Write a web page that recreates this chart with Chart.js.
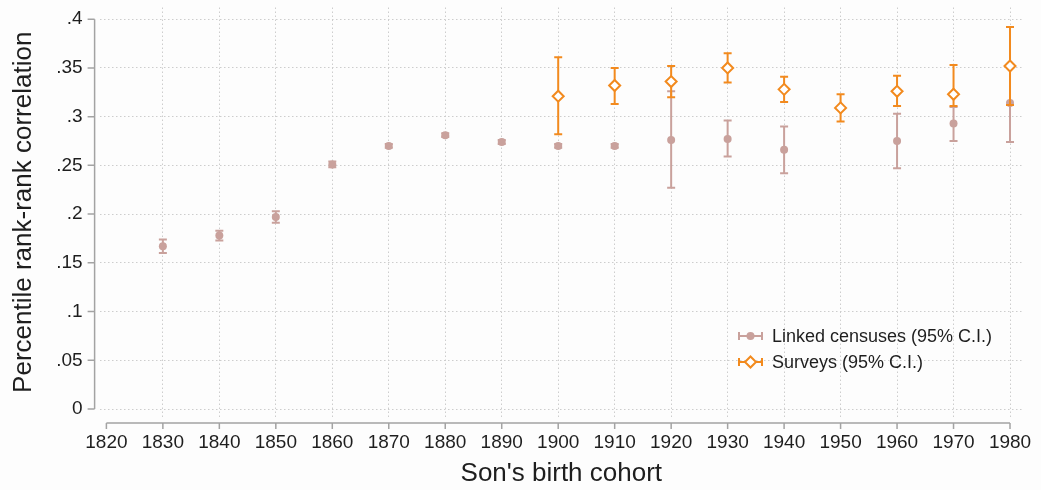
<!DOCTYPE html>
<html>
<head>
<meta charset="utf-8">
<script src="https://cdn.jsdelivr.net/npm/chart.js@4/dist/chart.umd.min.js"></script>
<style>
  html, body { margin: 0; padding: 0; background: #fff; }
  #wrap { width: 1041px; height: 490px; position: relative; background: #fdfdfd; }
</style>
</head>
<body>
<div id="wrap"><canvas id="cohortChart"></canvas></div>
<script>
// son's birth cohorts
const cohorts = [1830, 1840, 1850, 1860, 1870, 1880, 1890, 1900, 1910, 1920, 1930, 1940, 1950, 1960, 1970, 1980];

// linked censuses: estimate and 95% CI (no value for 1950)
const linkedEst = [0.167, 0.178, 0.197, 0.251, 0.270, 0.281, 0.274, 0.270, 0.270, 0.276, 0.277, 0.266, null, 0.275, 0.293, 0.314];
const linkedLo  = [0.160, 0.173, 0.191, 0.248, 0.268, 0.279, 0.272, 0.268, 0.268, 0.227, 0.259, 0.242, null, 0.247, 0.275, 0.274];
const linkedHi  = [0.174, 0.183, 0.203, 0.254, 0.272, 0.283, 0.276, 0.272, 0.272, 0.326, 0.296, 0.290, null, 0.303, 0.310, 0.354];

// surveys: estimate and 95% CI
const surveyYears = [1900, 1910, 1920, 1930, 1940, 1950, 1960, 1970, 1980];
const surveyEst = [0.321, 0.332, 0.336, 0.350, 0.328, 0.309, 0.326, 0.323, 0.352];
const surveyLo  = [0.282, 0.313, 0.320, 0.335, 0.315, 0.295, 0.311, 0.311, 0.312];
const surveyHi  = [0.361, 0.350, 0.352, 0.365, 0.341, 0.323, 0.342, 0.353, 0.392];

const xTicks = [1820, 1830, 1840, 1850, 1860, 1870, 1880, 1890, 1900, 1910, 1920, 1930, 1940, 1950, 1960, 1970, 1980];
const yTicks = [0, 0.05, 0.1, 0.15, 0.2, 0.25, 0.3, 0.35, 0.4];
const yTickLabels = ['0', '.05', '.1', '.15', '.2', '.25', '.3', '.35', '.4'];

const legendLabels = ['Linked censuses (95% C.I.)', 'Surveys (95% C.I.)'];

const linkedColor = '#c9a19c';
const surveyColor = '#f28a1e';
const axisColor = '#a3a3a3';
const gridColor = '#cdcdcd';
const textColor = '#1e1e1e';
const FONT = "'Liberation Sans', Arial, Helvetica, sans-serif";

const toPoints = (xs, ys, lo, hi) =>
  xs.map((x, i) => ({ x: x, y: ys[i], lo: lo[i], hi: hi[i] })).filter(p => p.y !== null);

// error bars drawn just before each dataset's markers
const errorBars = {
  id: 'errorBars',
  beforeDatasetDraw(chart, args) {
    const ds = chart.data.datasets[args.index];
    const xs = chart.scales.x, ys = chart.scales.y;
    const ctx = chart.ctx;
    ctx.save();
    ctx.strokeStyle = ds.errColor;
    ctx.lineWidth = 2;
    ds.data.forEach(p => {
      const px = xs.getPixelForValue(p.x);
      const top = ys.getPixelForValue(p.hi);
      const bot = ys.getPixelForValue(p.lo);
      ctx.beginPath();
      ctx.moveTo(px, top); ctx.lineTo(px, bot);
      ctx.moveTo(px - 4, top); ctx.lineTo(px + 4, top);
      ctx.moveTo(px - 4, bot); ctx.lineTo(px + 4, bot);
      ctx.stroke();
    });
    ctx.restore();
  }
};

// stata-style detached axes + legend inside the plot region
const stataAxes = {
  id: 'stataAxes',
  afterDraw(chart) {
    const { ctx, chartArea, scales } = chart;
    const xs = scales.x, ys = scales.y;
    ctx.save();
    ctx.strokeStyle = axisColor;
    ctx.lineWidth = 1.5;

    const ax = chartArea.left - 5;
    ctx.beginPath();
    ctx.moveTo(ax, ys.getPixelForValue(yTicks[0]));
    ctx.lineTo(ax, ys.getPixelForValue(yTicks[yTicks.length - 1]));
    yTicks.forEach(v => {
      const py = ys.getPixelForValue(v);
      ctx.moveTo(ax - 7, py); ctx.lineTo(ax, py);
    });
    ctx.stroke();

    const ay = chartArea.bottom + 6;
    ctx.beginPath();
    ctx.moveTo(xs.getPixelForValue(xTicks[0]), ay);
    ctx.lineTo(xs.getPixelForValue(xTicks[xTicks.length - 1]), ay);
    xTicks.forEach(v => {
      const px = xs.getPixelForValue(v);
      ctx.moveTo(px, ay); ctx.lineTo(px, ay + 6);
    });
    ctx.stroke();

    // legend
    const lx = 739, rows = [336, 362];
    const colors = [linkedColor, surveyColor];
    rows.forEach((ly, i) => {
      ctx.strokeStyle = colors[i];
      ctx.lineWidth = 2;
      ctx.beginPath();
      ctx.moveTo(lx, ly); ctx.lineTo(lx + 23, ly);
      ctx.moveTo(lx, ly - 4); ctx.lineTo(lx, ly + 4);
      ctx.moveTo(lx + 23, ly - 4); ctx.lineTo(lx + 23, ly + 4);
      ctx.stroke();
      const cx = lx + 11.5;
      ctx.beginPath();
      if (i === 0) {
        ctx.fillStyle = colors[i];
        ctx.arc(cx, ly, 4, 0, Math.PI * 2);
        ctx.fill();
      } else {
        ctx.fillStyle = '#ffffff';
        ctx.moveTo(cx, ly - 5.5); ctx.lineTo(cx + 5.5, ly);
        ctx.lineTo(cx, ly + 5.5); ctx.lineTo(cx - 5.5, ly);
        ctx.closePath();
        ctx.fill(); ctx.stroke();
      }
      ctx.fillStyle = textColor;
      ctx.font = '18px ' + FONT;
      ctx.textBaseline = 'middle';
      ctx.textAlign = 'left';
      ctx.fillText(legendLabels[i], lx + 33, ly + 1);
    });
    ctx.restore();
  }
};

new Chart(document.getElementById('cohortChart'), {
  type: 'scatter',
  data: {
    datasets: [
      {
        label: legendLabels[0],
        data: toPoints(cohorts, linkedEst, linkedLo, linkedHi),
        pointStyle: 'circle',
        pointRadius: 4,
        pointBorderWidth: 0,
        backgroundColor: linkedColor,
        borderColor: linkedColor,
        errColor: linkedColor,
        order: 1
      },
      {
        label: legendLabels[1],
        data: toPoints(surveyYears, surveyEst, surveyLo, surveyHi),
        pointStyle: 'rectRot',
        pointRadius: 5.5,
        pointBorderWidth: 2,
        backgroundColor: '#ffffff',
        borderColor: surveyColor,
        errColor: surveyColor,
        order: 0
      }
    ]
  },
  options: {
    responsive: true,
    maintainAspectRatio: false,
    animation: false,
    layout: { padding: { left: 8, right: 18, top: 0, bottom: 1 } },
    plugins: {
      legend: { display: false },
      tooltip: { enabled: false }
    },
    scales: {
      x: {
        type: 'linear',
        min: 1818.8,
        max: 1982.3,
        afterBuildTicks: s => { s.ticks = xTicks.map(v => ({ value: v })); },
        ticks: {
          color: textColor,
          font: { family: FONT, size: 19 },
          padding: 0,
          maxRotation: 0,
          autoSkip: false,
          callback: v => String(v)
        },
        grid: {
          drawTicks: true,
          tickLength: 14,
          tickColor: 'rgba(0,0,0,0)',
          color: c => (c.tick && c.tick.value === 1820) ? 'rgba(0,0,0,0)' : gridColor,
          lineWidth: 1
        },
        border: { display: false, dash: [1.5, 2.5] },
        title: {
          display: true,
          text: "Son's birth cohort",
          color: textColor,
          font: { family: FONT, size: 26 },
          padding: { top: 4, bottom: 0 }
        }
      },
      y: {
        min: -0.0082,
        max: 0.412,
        afterBuildTicks: s => { s.ticks = yTicks.map(v => ({ value: v })); },
        ticks: {
          color: textColor,
          font: { family: FONT, size: 19, lineHeight: 0.4 },
          padding: 0,
          autoSkip: false,
          callback: (v, i) => yTickLabels[i]
        },
        grid: {
          drawTicks: true,
          tickLength: 17,
          tickColor: 'rgba(0,0,0,0)',
          color: gridColor,
          lineWidth: 1
        },
        border: { display: false, dash: [1.5, 2.5] },
        title: {
          display: true,
          text: 'Percentile rank-rank correlation',
          color: textColor,
          font: { family: FONT, size: 26 },
          padding: { top: 0, bottom: 17 }
        }
      }
    }
  },
  plugins: [errorBars, stataAxes]
});
</script>
</body>
</html>
